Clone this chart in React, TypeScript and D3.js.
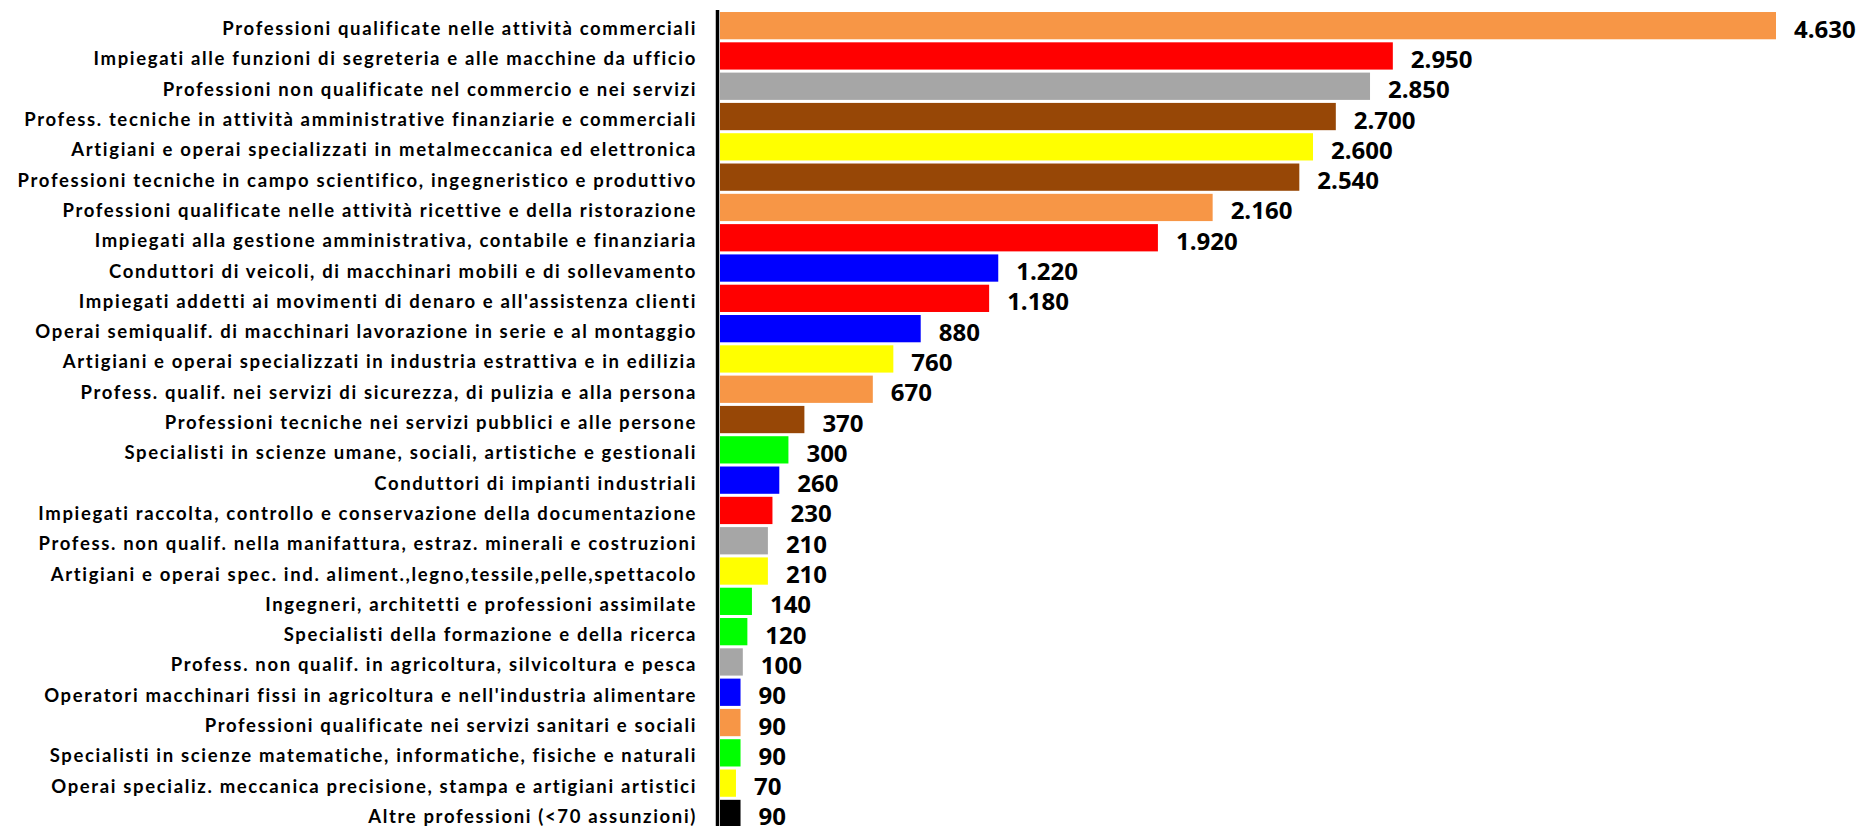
import React from "react";
import * as d3 from "d3";

const categories = [
  "Professioni qualificate nelle attività commerciali",
  "Impiegati alle funzioni di segreteria e alle macchine da ufficio",
  "Professioni non qualificate nel commercio e nei servizi",
  "Profess. tecniche in attività amministrative finanziarie e commerciali",
  "Artigiani e operai specializzati in metalmeccanica ed elettronica",
  "Professioni tecniche in campo scientifico, ingegneristico e produttivo",
  "Professioni qualificate nelle attività ricettive e della ristorazione",
  "Impiegati alla gestione amministrativa, contabile e finanziaria",
  "Conduttori di veicoli, di macchinari mobili e di sollevamento",
  "Impiegati addetti ai movimenti di denaro e all'assistenza clienti",
  "Operai semiqualif. di macchinari lavorazione in serie e al montaggio",
  "Artigiani e operai specializzati in industria estrattiva e in edilizia",
  "Profess. qualif. nei servizi di sicurezza, di pulizia e alla persona",
  "Professioni tecniche nei servizi pubblici e alle persone",
  "Specialisti in scienze umane, sociali, artistiche e gestionali",
  "Conduttori di impianti industriali",
  "Impiegati raccolta, controllo e conservazione della documentazione",
  "Profess. non qualif. nella manifattura, estraz. minerali e costruzioni",
  "Artigiani e operai spec. ind. aliment.,legno,tessile,pelle,spettacolo",
  "Ingegneri, architetti e professioni assimilate",
  "Specialisti della formazione e della ricerca",
  "Profess. non qualif. in agricoltura, silvicoltura e pesca",
  "Operatori macchinari fissi in agricoltura e nell'industria alimentare",
  "Professioni qualificate nei servizi sanitari e sociali",
  "Specialisti in scienze matematiche, informatiche, fisiche e naturali",
  "Operai specializ. meccanica precisione, stampa e artigiani artistici",
  "Altre professioni (<70 assunzioni)",
];

const values = [
  4630, 2950, 2850, 2700, 2600, 2540, 2160, 1920, 1220, 1180, 880, 760, 670,
  370, 300, 260, 230, 210, 210, 140, 120, 100, 90, 90, 90, 70, 90,
];

const groups = [
  "orange", "red", "gray", "brown", "yellow", "brown", "orange", "red", "blue",
  "red", "blue", "yellow", "orange", "brown", "green", "blue", "red", "gray",
  "yellow", "green", "green", "gray", "blue", "orange", "green", "yellow", "black",
];

const groupNames = ["orange", "red", "gray", "brown", "yellow", "blue", "green", "black"];
const groupColors = ["#F79646", "#FF0000", "#A6A6A6", "#974706", "#FFFF00", "#0000FF", "#00FF00", "#000000"];

const W = 1863;
const H = 826;

export default function App() {
  const x = d3.scaleLinear().domain([0, 4630]).range([720, 1776]);
  const y = d3
    .scaleBand<string>()
    .domain(categories)
    .range([10.5, 10.5 + 27 * 30.3])
    .paddingInner(0.1)
    .paddingOuter(0.05);
  const color = d3.scaleOrdinal<string, string>().domain(groupNames).range(groupColors);
  const locale = d3.formatLocale({ decimal: ",", thousands: ".", grouping: [3], currency: ["€", ""] });
  const fmt = locale.format(",d");

  return (
    <div style={{ position: "fixed", left: 0, top: 0, width: W, height: H, background: "#fff" }}>
      <svg width={W} height={H} style={{ display: "block" }}>
        <rect x={0} y={0} width={W} height={H} fill="#fff" />
        {categories.map((c, i) => {
          const yy = y(c)!;
          const bw = y.bandwidth();
          return (
            <g key={c}>
              <rect x={x(0)} y={yy} width={x(values[i]) - x(0)} height={bw} fill={color(groups[i])} />
              <text
                x={697}
                y={yy + bw / 2 + 9.5}
                textAnchor="end"
                fontFamily="Lato, 'Open Sans', sans-serif"
                fontWeight="bold"
                fontSize={18.5}
                letterSpacing={1.65}
                fill="#000"
              >
                {c}
              </text>
              <text
                x={x(values[i]) + 18}
                y={yy + bw / 2 + 12}
                fontFamily="'Open Sans', Lato, sans-serif"
                fontWeight="bold"
                fontSize={24}
                fill="#000"
              >
                {fmt(values[i])}
              </text>
            </g>
          );
        })}
        <line x1={717.5} x2={717.5} y1={10} y2={H} stroke="#000" strokeWidth={3.5} />
      </svg>
    </div>
  );
}
